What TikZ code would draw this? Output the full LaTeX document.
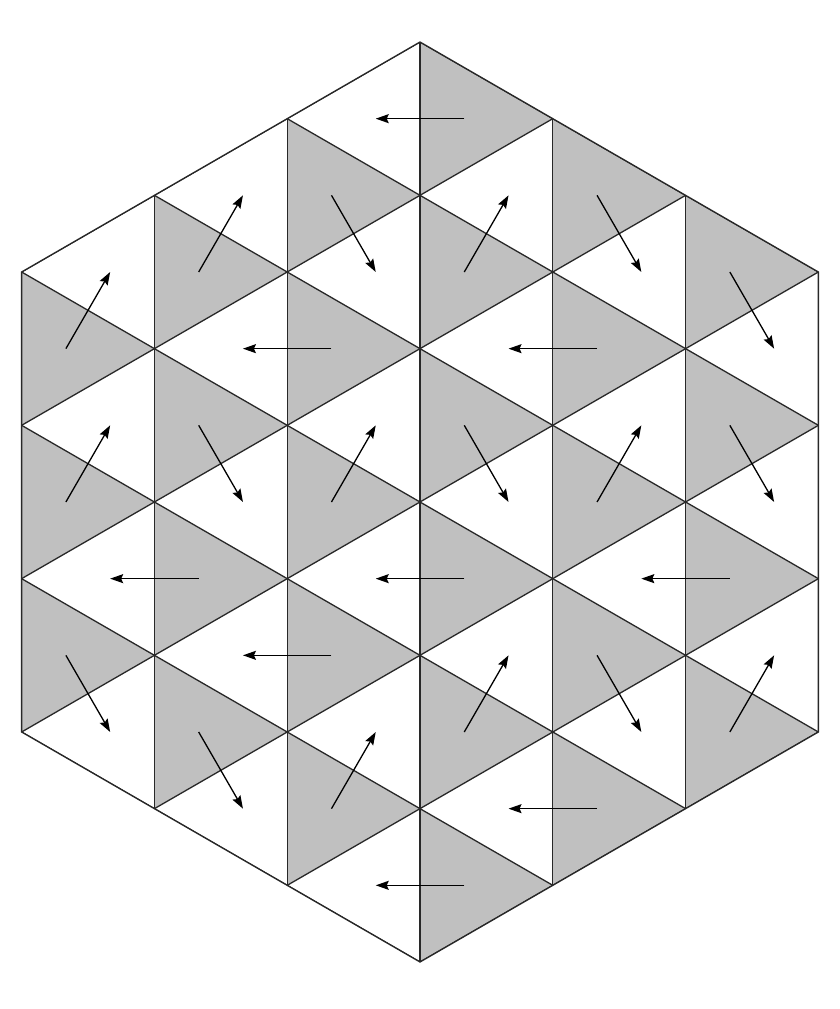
\documentclass[tikz,border=0pt]{standalone}
\usetikzlibrary{arrows.meta}
\definecolor{tri}{RGB}{192,192,192}
\definecolor{edge}{RGB}{40,40,40}
\tikzset{
  gridline/.style={draw=edge, line width=1.3pt},
  grayfill/.style={fill=tri},
  dimer/.style={draw=black, line width=1.3pt, -{Stealth[length=13pt,width=9pt,inset=2pt]}}
}
\begin{document}
\begin{tikzpicture}[x=1pt,y=-1pt]
\def\H{132.79}
\def\S{153.33}
\useasboundingbox[fill=white] (0,0) rectangle (840,1009);
% hexagon corners
\coordinate (T) at (420,42);
\coordinate (B) at (420,962);
\coordinate (LU) at ({420-3*\H},{42+1.5*\S});
\coordinate (LD) at ({420-3*\H},{42+4.5*\S});
\coordinate (RU) at ({420+3*\H},{42+1.5*\S});
\coordinate (RD) at ({420+3*\H},{42+4.5*\S});
\begin{scope}
\clip (T) -- (RU) -- (RD) -- (B) -- (LD) -- (LU) -- cycle;
% gray right-pointing triangles
\foreach \k in {-3,...,2}{
  \foreach \m in {-1,...,13}{
    \pgfmathtruncatemacro{\p}{mod(\k+\m+20,2)}
    \ifnum\p=1
      \fill[grayfill] ({420+\k*\H},{42+(\m-1)*\S/2}) -- ({420+\k*\H},{42+(\m+1)*\S/2}) -- ({420+(\k+1)*\H},{42+\m*\S/2}) -- cycle;
    \fi
  }
}
% vertical lines
\foreach \k in {-2,...,2}{
  \draw[gridline] ({420+\k*\H},0) -- ({420+\k*\H},1009);
}
% diagonal lines
\foreach \n in {-8,...,14}{
  \draw[gridline] ({420-6*\H},{42+(2*\n-6)*\S/2}) -- ({420+6*\H},{42+(2*\n+6)*\S/2});
  \draw[gridline] ({420-6*\H},{42+(2*\n+6)*\S/2}) -- ({420+6*\H},{42+(2*\n-6)*\S/2});
}
\end{scope}
\draw[gridline, line join=miter] (T) -- (RU) -- (RD) -- (B) -- (LD) -- (LU) -- cycle;
% arrows: L = left, U = up-right, D = down-right
\foreach \k/\m/\d in {0/1/L,-2/3/U,-1/2/D,0/3/U,1/2/D,2/3/D,-3/4/U,-1/4/L,1/4/L,
  -3/6/U,-2/5/D,-1/6/U,0/5/D,1/6/U,2/5/D,-2/7/L,0/7/L,2/7/L,
  -3/8/D,-1/8/L,0/9/U,1/8/D,2/9/U,-2/9/D,-1/10/U,1/10/L,0/11/L}{
  \coordinate (g) at ({420+\k*\H+\H/3},{42+\m*\S/2});
  \if\d L
    \coordinate (w) at ({420+\k*\H-\H/3},{42+\m*\S/2});
  \else\if\d U
    \coordinate (w) at ({420+\k*\H+2*\H/3},{42+(\m-1)*\S/2});
  \else
    \coordinate (w) at ({420+\k*\H+2*\H/3},{42+(\m+1)*\S/2});
  \fi\fi
  \draw[dimer] (g) -- (w);
}
\end{tikzpicture}
\end{document}
